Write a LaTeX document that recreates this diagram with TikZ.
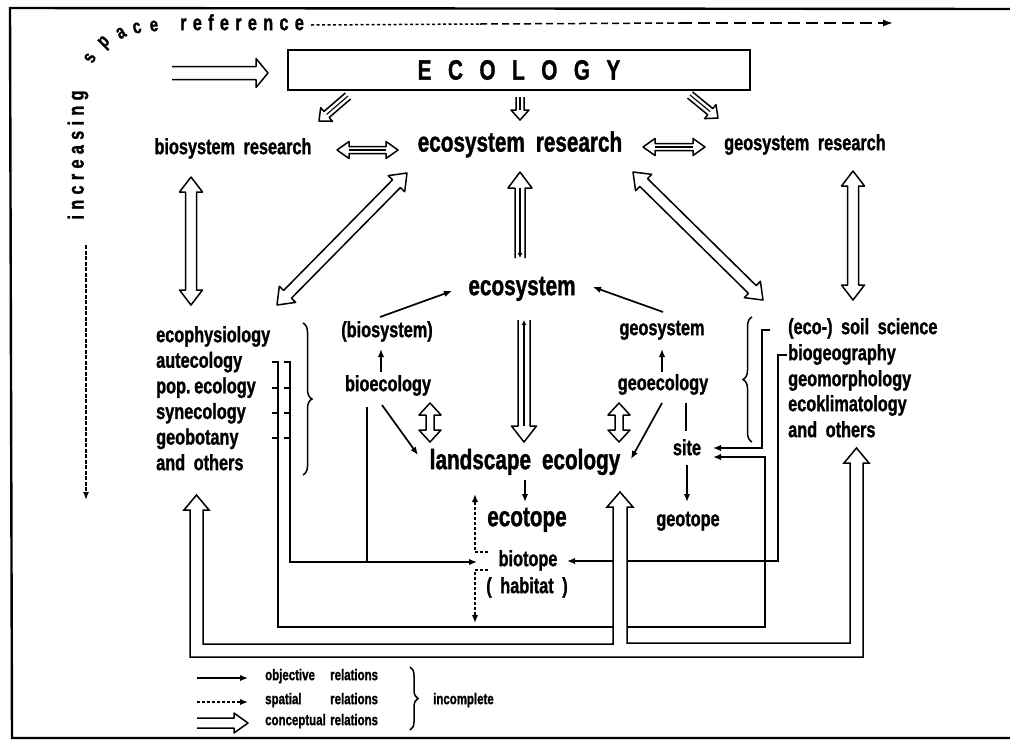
\documentclass[tikz,border=0pt]{standalone}
\usepackage{fontspec}
\newfontfamily\cf{Liberation Sans}[FakeStretch=0.74, WordSpace=1.9, FakeBold=1.2]
\usetikzlibrary{calc,arrows.meta,decorations.pathreplacing}
% hollow single arrow: #1 tail, #2 tip, #3 shaft half width, #4 head half width, #5 head length
\newcommand{\harr}[5]{%
  \filldraw[hol] ($(#1)!#3!90:(#2)$) -- ($(#2)!#5!(#1)!#3!-90:(#1)$) -- ($(#2)!#5!(#1)!#4!-90:(#1)$) -- (#2)
   -- ($(#2)!#5!(#1)!#4!90:(#1)$) -- ($(#2)!#5!(#1)!#3!90:(#1)$) -- ($(#1)!#3!-90:(#2)$);}
% hollow double-headed arrow
\newcommand{\hdarr}[5]{%
  \filldraw[hol] (#1) -- ($(#1)!#5!(#2)!#4!90:(#2)$) -- ($(#1)!#5!(#2)!#3!90:(#2)$)
   -- ($(#2)!#5!(#1)!#3!-90:(#1)$) -- ($(#2)!#5!(#1)!#4!-90:(#1)$) -- (#2)
   -- ($(#2)!#5!(#1)!#4!90:(#1)$) -- ($(#2)!#5!(#1)!#3!90:(#1)$)
   -- ($(#1)!#5!(#2)!#3!-90:(#2)$) -- ($(#1)!#5!(#2)!#4!-90:(#2)$) -- cycle;}
\newcommand{\gapr}{\hspace{6.3pt}}
\newcommand{\gapi}{\hspace{5.3pt}}
\newcommand{\gape}{\hspace{16.5pt}}
\begin{document}
\begin{tikzpicture}[x=1pt,y=-1pt,
 hol/.style={draw, fill=white, line width=1.5pt, line join=round},
 ln/.style={line width=1.7pt},
 inn/.style={line width=1.1pt},
 obj/.style={line width=1.7pt, -{Latex[length=8pt,width=6.5pt]}},
 spa/.style={line width=1.6pt, dash pattern=on 3pt off 2pt, -{Latex[length=8pt,width=6.5pt]}},
 txt/.style={font=\cf\bfseries\fontsize{22}{24}\selectfont, inner sep=0pt, anchor=mid},
 bigt/.style={font=\cf\bfseries\fontsize{28}{30}\selectfont, inner sep=0pt, anchor=mid},
 leg/.style={font=\cf\bfseries\fontsize{15.5}{17}\selectfont, inner sep=0pt, anchor=mid west},
 sp/.style={font=\cf\bfseries\fontsize{22}{24}\selectfont, inner sep=0pt},
 brc/.style={line width=1.5pt, decorate, decoration={brace, amplitude=9pt}}]
\useasboundingbox (0,0) rectangle (1010,740);
\fill[white] (0,0) rectangle (1010,740);
% frame
\draw[line width=2.4pt] (1010,9) -- (10,8) -- (12,738) -- (1010,738);

% increasing space reference
\node[sp,rotate=90] (inc) at (78,155) {i\gapi n\gapi c\gapi r\gapi e\gapi a\gapi s\gapi i\gapi n\gapi g};
\node[sp,rotate=65,inner sep=-2.5pt,font=\cf\bfseries\fontsize{20}{22}\selectfont] (sp1) at (90,58) {s};
\node[sp,rotate=45,inner sep=-2.5pt,font=\cf\bfseries\fontsize{20}{22}\selectfont] (sp2) at (105,43) {p};
\node[sp,rotate=30,inner sep=-2.5pt,font=\cf\bfseries\fontsize{20}{22}\selectfont] (sp3) at (121,33) {a};
\node[sp,rotate=16,inner sep=-2.5pt,font=\cf\bfseries\fontsize{20}{22}\selectfont] (sp4) at (137,28) {c};
\node[sp,rotate=6,inner sep=-2.5pt,font=\cf\bfseries\fontsize{20}{22}\selectfont] (sp5) at (154,26) {e};
\node[sp,anchor=mid west] (ref) at (180,28) {r\gapr e\gapr f\gapr e\gapr r\gapr e\gapr n\gapr c\gapr e};
\coordinate (r0) at (311,25); \coordinate (r1) at (480,24); \coordinate (r2) at (680,23); \coordinate (r3) at (893,23);
\draw[line width=1.5pt, dash pattern=on 3pt off 2.5pt] (r0) -- (r1);
\draw[line width=1.5pt, dash pattern=on 7pt off 4pt] (r1) -- (r2);
\draw[line width=1.5pt, dash pattern=on 12pt off 6pt, -{Latex[length=10pt,width=7pt]}] (r2) -- (r3);
\coordinate (i0) at (86,245); \coordinate (i1) at (86,500);
\draw[line width=1.5pt, dash pattern=on 4pt off 1.5pt, -{Latex[length=8pt,width=6pt]}] (i0) -- (i1);

% ECOLOGY
\node[draw, line width=1.8pt, minimum width=462pt, minimum height=40pt, inner sep=0pt,
  font=\cf\bfseries\fontsize{28}{30}\selectfont] (eco) at (519,70) {E\gape C\gape O\gape L\gape O\gape G\gape Y};
\coordinate (a1) at (172,73); \coordinate (a1t) at (268,73);
\harr{a1}{a1t}{6.5pt}{14.5pt}{12pt}

% texts
\node[txt] (bsr) at (233,152) {biosystem research};
\node[bigt] (esr) at (520,149.5) {ecosystem research};
\node[txt] (gsr) at (805,148) {geosystem research};
\node[bigt] (es) at (522,293) {ecosystem};
\node[txt] (bs) at (387,335) {(biosystem)};
\node[txt] (be) at (388,389) {bioecology};
\node[txt] (gs) at (662,333) {geosystem};
\node[txt] (ge) at (663,388) {geoecology};
\node[bigt] (le) at (525,467) {landscape ecology};
\node[bigt] (et) at (527,524) {ecotope};
\node[txt] (bt) at (528,564) {biotope};
\node[txt] (hb) at (527,591) {( habitat )};
\node[txt] (st) at (687,453) {site};
\node[txt] (gt) at (688,524) {geotope};

\node[txt,anchor=mid west] (l1) at (156,340) {ecophysiology};
\node[txt,anchor=mid west] (l2) at (156,365.6) {autecology};
\node[txt,anchor=mid west] (l3) at (156,391.2) {pop.\,ecology};
\node[txt,anchor=mid west] (l4) at (156,416.8) {synecology};
\node[txt,anchor=mid west] (l5) at (156,442.4) {geobotany};
\node[txt,anchor=mid west] (l6) at (156,468) {and others};

\node[txt,anchor=mid west] (r1n) at (788,332) {(eco-) soil science};
\node[txt,anchor=mid west] (r2n) at (788,358) {biogeography};
\node[txt,anchor=mid west] (r3n) at (788,384) {geomorphology};
\node[txt,anchor=mid west] (r4n) at (788,409) {ecoklimatology};
\node[txt,anchor=mid west] (r5n) at (788,435) {and others};

% small arrows from ECOLOGY
\coordinate (e1a) at (348,96); \coordinate (e1b) at (319,121);
\coordinate (e2a) at (520,97); \coordinate (e2b) at (520,120);
\coordinate (e3a) at (690,95); \coordinate (e3b) at (718,118);
\harr{e1a}{e1b}{4pt}{9pt}{10pt} \draw[inn] (e1a) -- ($(e1b)!10pt!(e1a)$);
\harr{e2a}{e2b}{4pt}{9pt}{10pt} \draw[inn] (e2a) -- ($(e2b)!10pt!(e2a)$);
\harr{e3a}{e3b}{4pt}{9pt}{10pt} \draw[inn] (e3a) -- ($(e3b)!10pt!(e3a)$);

% horizontal double arrows
\coordinate (h1a) at (337,150); \coordinate (h1b) at (398,150);
\coordinate (h2a) at (643,147); \coordinate (h2b) at (705,147);
\hdarr{h1a}{h1b}{3.5pt}{8.5pt}{12pt} \draw[inn] ($(h1a)!12pt!(h1b)$) -- ($(h1b)!12pt!(h1a)$);
\hdarr{h2a}{h2b}{3.5pt}{8.5pt}{12pt} \draw[inn] ($(h2a)!12pt!(h2b)$) -- ($(h2b)!12pt!(h2a)$);

% big double arrows
\coordinate (v1a) at (191,177); \coordinate (v1b) at (191,305);
\coordinate (d1a) at (407,173); \coordinate (d1b) at (277,305);
\coordinate (d2a) at (633,172); \coordinate (d2b) at (763,300);
\coordinate (v2a) at (853,171); \coordinate (v2b) at (853,300);
\hdarr{v1a}{v1b}{5.5pt}{11.5pt}{15pt}
\hdarr{d1a}{d1b}{5.5pt}{11.5pt}{15pt}
\hdarr{d2a}{d2b}{5.5pt}{11.5pt}{15pt}
\hdarr{v2a}{v2b}{5.5pt}{11.5pt}{15pt}

% ecosystem <-> research, ecosystem -> landscape ecology
\coordinate (u1a) at (520,258); \coordinate (u1b) at (520,172);
\harr{u1a}{u1b}{5pt}{12pt}{16pt}
\draw[inn,-{Latex[length=5pt,width=5pt]}] ($(u1b)!16pt!(u1a)$) -- (u1a);
\coordinate (u2a) at (524,320); \coordinate (u2b) at (524,442);
\harr{u2a}{u2b}{6pt}{12.5pt}{16pt}
\draw[inn,-{Latex[length=5pt,width=5pt]}] ($(u2b)!16pt!(u2a)$) -- (u2a);

% small double arrows
\coordinate (s1a) at (430,403); \coordinate (s1b) at (430,442);
\coordinate (s2a) at (619,403); \coordinate (s2b) at (619,442);
\hdarr{s1a}{s1b}{4pt}{11pt}{12pt}
\hdarr{s2a}{s2b}{4pt}{11pt}{12pt}

% objective relations
\coordinate (o1a) at (380,317); \coordinate (o1b) at (452,291);
\coordinate (o2a) at (663,312); \coordinate (o2b) at (593,287);
\coordinate (o3a) at (381,372); \coordinate (o3b) at (381,349);
\coordinate (o4a) at (662,372); \coordinate (o4b) at (662,349);
\coordinate (o5a) at (382,405); \coordinate (o5b) at (418,455);
\coordinate (o6a) at (662,403); \coordinate (o6b) at (631,459);
\coordinate (o7a) at (525,480); \coordinate (o7b) at (525,502);
\coordinate (o8a) at (687,465); \coordinate (o8b) at (687,502);
\draw[obj] (o1a) -- (o1b);
\draw[obj] (o2a) -- (o2b);
\draw[obj] (o3a) -- (o3b);
\draw[obj] (o4a) -- (o4b);
\draw[obj] (o5a) -- (o5b);
\draw[obj] (o6a) -- (o6b);
\draw[obj] (o7a) -- (o7b);
\draw[obj] (o8a) -- (o8b);
\coordinate (g1) at (686,403); \coordinate (g2) at (686,431);
\draw[ln] (g1) -- (g2);
\coordinate (b1) at (367,407); \coordinate (b2) at (367,562);
\draw[ln] (b1) -- (b2);

% left brackets
\draw[obj] (272,362) -- (278,362) -- (278,627) -- (765,627) -- (765,457) -- (713,457);
\draw[obj] (284,362) -- (290,362) -- (290,562) -- (477,562);
\foreach \yy in {388,413,438} {\draw[ln] (272,\yy) -- (278,\yy); \draw[ln] (284,\yy) -- (290,\yy);}
% right brackets
\draw[obj] (770,330) -- (762,330) -- (762,448) -- (713,448);
\draw[obj] (787,355) -- (778,355) -- (778,561) -- (567,561);

% braces
\draw[brc] (303,323) -- (303,475);
\draw[brc] (752,442) -- (752,317);

% spatial relations
\draw[spa] (488,552) -- (475,552) -- (475,494);
\draw[spa] (488,570) -- (475,570) -- (475,623);

% bottom channel of conceptual arrows
\filldraw[hol, line join=miter] (196.5,495) -- (209,510) -- (203,510) -- (203,644) -- (613,644) -- (613,507) -- (607,507) -- (620,492)
  -- (633,507) -- (627,507) -- (627,643) -- (850,643) -- (850,463) -- (844,463) -- (856.5,448) -- (869,463)
  -- (863,463) -- (863,657) -- (190,657) -- (190,510) -- (184,510) -- cycle;

% legend
\coordinate (la1) at (197,678); \coordinate (lb1) at (248,678);
\coordinate (la2) at (197,702); \coordinate (lb2) at (248,702);
\coordinate (la3) at (197,723); \coordinate (lb3) at (248,723);
\draw[obj] (la1) -- (lb1);
\draw[spa] (la2) -- (lb2);
\harr{la3}{lb3}{5pt}{10pt}{14pt}
\node[leg] (lg1) at (265,678) {objective};
\node[leg] (lg2) at (265,702) {spatial};
\node[leg] (lg3) at (265,723) {conceptual};
\node[leg] (lr1) at (330,678) {relations};
\node[leg] (lr2) at (330,702) {relations};
\node[leg] (lr3) at (330,723) {relations};
\draw[brc, decoration={brace, amplitude=8pt}] (410,667) -- (410,730);
\node[leg] (inc2) at (433,702) {incomplete};
\end{tikzpicture}
\end{document}
